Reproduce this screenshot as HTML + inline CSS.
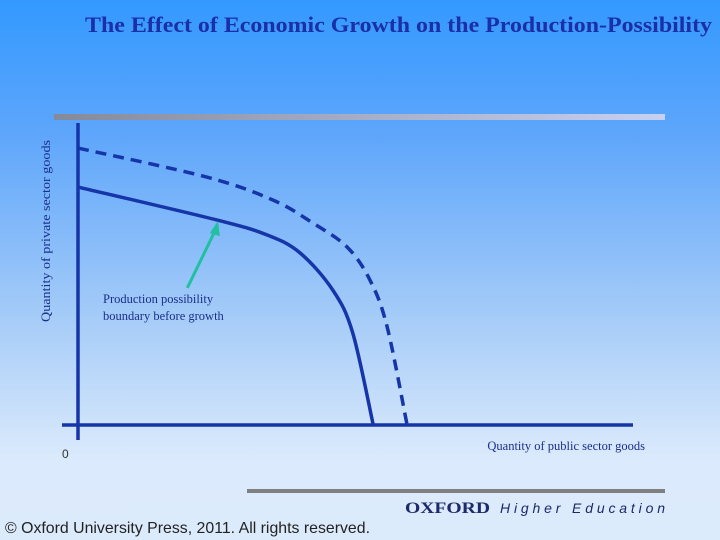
<!DOCTYPE html>
<html><head><meta charset="utf-8"><style>
html,body{margin:0;padding:0}
body{width:720px;height:540px;overflow:hidden;background:linear-gradient(#3399ff 0%,#5ea6fb 25%,#a8cdf8 60%,#dbeafc 85%,#dcebfc 100%)}
svg{position:absolute;left:0;top:0}
</style></head><body>
<svg width="720" height="540">
<defs><linearGradient id="bar" x1="0" x2="1"><stop offset="0" stop-color="#858a99"/><stop offset="1" stop-color="#c8d0f2"/></linearGradient></defs>
<text x="85" y="32" textLength="627" lengthAdjust="spacingAndGlyphs" font-family="Liberation Serif, serif" font-weight="bold" font-size="22" fill="#1a2fa8">The Effect of Economic Growth on the Production-Possibility</text>
<rect x="54" y="114" width="611" height="6" fill="url(#bar)"/>
<g id="plot"></g>
<text transform="translate(50,231) rotate(-90)" text-anchor="middle" font-family="Liberation Serif, serif" font-size="13" textLength="182" lengthAdjust="spacingAndGlyphs" fill="#1a2f8a">Quantity of private sector goods</text>
<text x="645" y="450" text-anchor="end" font-family="Liberation Serif, serif" font-size="12.5" fill="#1a2f8a">Quantity of public sector goods</text>
<text x="62" y="458" font-family="Liberation Sans, sans-serif" font-size="12" fill="#333">0</text>
<text font-family="Liberation Serif, serif" font-size="12.5" fill="#1a2f8a"><tspan x="103" y="303">Production possibility</tspan><tspan x="103" y="320">boundary before growth</tspan></text>
<rect x="247" y="489" width="418" height="4" fill="#808080"/>
<text x="405" y="513" font-family="Liberation Serif, serif" font-weight="bold" font-size="16" fill="#1c2a6a" textLength="85" lengthAdjust="spacingAndGlyphs">OXFORD</text>
<text x="500" y="513" font-family="Liberation Sans, sans-serif" font-style="italic" font-size="14" fill="#1c2a6a" textLength="165" lengthAdjust="spacing">Higher Education</text>
<text x="5" y="533" font-family="Liberation Sans, sans-serif" font-size="16" fill="#222" textLength="365" lengthAdjust="spacingAndGlyphs">© Oxford University Press, 2011. All rights reserved.</text>
</svg>
<script>
const beforeX=[0,25,34.1,40,45.9,49.5,53.2];
const beforeY=[78.8,67.9,62.9,57,44.7,30.5,0];
const afterX=[0,23.2,35.1,42.3,48.5,52.6,55.7,59.3];
const afterY=[91.7,82.1,74.5,66.9,58.9,48,32.5,0];
const arrowFrom=[19.7,45.4];
const arrowTo=[25.2,66.2];
const sx=v=>78+v*5.55, sy=v=>425-v*3.02;
const NS='http://www.w3.org/2000/svg', g=document.getElementById('plot');
function mk(t,a){const e=document.createElementNS(NS,t);for(const k in a)e.setAttribute(k,a[k]);g.appendChild(e);return e;}
function path(xs,ys){const p=xs.map((x,i)=>[sx(x),sy(ys[i])]);let d='M'+p[0];for(let i=0;i<p.length-1;i++){const p0=p[i-1]||p[i],p1=p[i],p2=p[i+1],p3=p[i+2]||p2;d+='C'+(p1[0]+(p2[0]-p0[0])/6)+','+(p1[1]+(p2[1]-p0[1])/6)+' '+(p2[0]-(p3[0]-p1[0])/6)+','+(p2[1]-(p3[1]-p1[1])/6)+' '+p2;}return d;}
const ya=mk('line',{x1:sx(0),y1:123,x2:sx(0),y2:440,stroke:'#1535a8','stroke-width':3.5});


const xa=mk('line',{x1:62,y1:sy(0),x2:633,y2:sy(0),stroke:'#1535a8','stroke-width':3.5});


const c1=mk('path',{d:path(beforeX,beforeY),fill:'none',stroke:'#1535a8','stroke-width':3.5});


const c2=mk('path',{d:path(afterX,afterY),fill:'none',stroke:'#1535a8','stroke-width':3.5,'stroke-dasharray':'11,7'});


const ar=mk('line',{x1:sx(arrowFrom[0]),y1:sy(arrowFrom[1]),x2:sx(arrowTo[0]),y2:sy(arrowTo[1]),stroke:'#20c0a0','stroke-width':3});


const ax=sx(arrowTo[0]),ay=sy(arrowTo[1]);
const ah=mk('polygon',{points:`${ax},${ay-4} ${ax-8},${ay+8} ${ax+2},${ay+11}`,fill:'#20c0a0'});


</script>
</body></html>
